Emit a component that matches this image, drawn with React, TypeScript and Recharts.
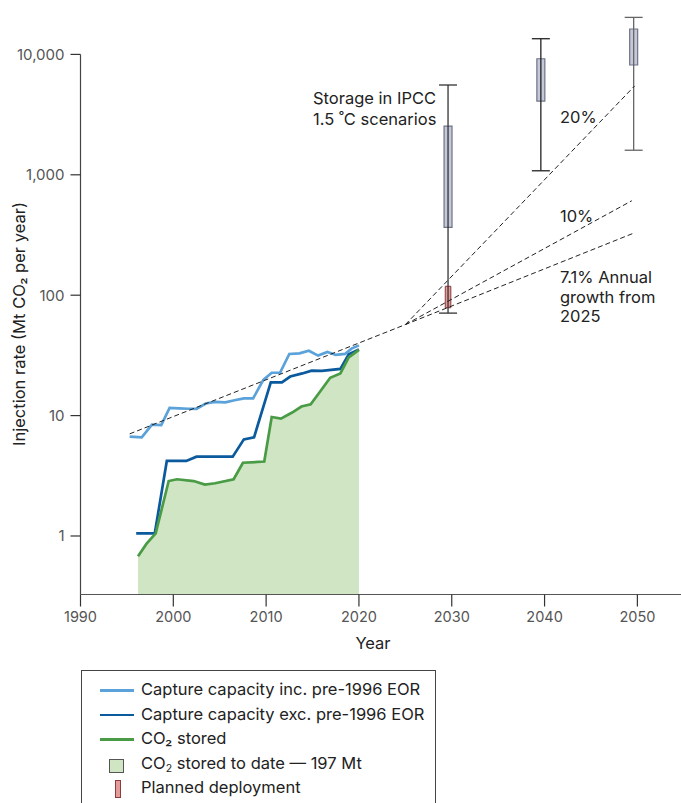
import React from 'react';
import {
  ComposedChart,
  Line,
  Area,
  XAxis,
  YAxis,
  ReferenceArea,
  ReferenceLine,
  Customized,
} from 'recharts';

const FONT = 'Inter, "Noto Sans", "DejaVu Sans", sans-serif';

// ---------- data ----------
const xTicks = [1990, 2000, 2010, 2020, 2030, 2040, 2050];
const yTicks = [1, 10, 100, 1000, 10000];

// Capture capacity inc. pre-1996 EOR
const incYears = [1995.3, 1996.6, 1997.7, 1998.7, 1999.6, 2000.6, 2001.6, 2002.5, 2003.5, 2004.5, 2005.6, 2006.6, 2007.6, 2008.6, 2009.7, 2010.6, 2011.5, 2012.5, 2013.6, 2014.6, 2015.6, 2016.6, 2017.5, 2018.5, 2019.2, 2020.0];
const incValues = [6.7, 6.6, 8.4, 8.35, 11.6, 11.5, 11.4, 11.35, 12.6, 13.0, 12.9, 13.4, 13.9, 13.9, 19.8, 22.7, 22.7, 32.5, 32.9, 34.6, 31.5, 33.8, 31.9, 32.5, 36.0, 38.3];

// Capture capacity exc. pre-1996 EOR
const excYears = [1996.0, 1998.0, 1999.3, 2001.4, 2002.5, 2006.4, 2007.6, 2008.7, 2010.5, 2011.7, 2012.6, 2013.9, 2014.9, 2016.0, 2018.0, 2018.9, 2020.0];
const excValues = [1.05, 1.05, 4.2, 4.2, 4.56, 4.56, 6.35, 6.6, 18.9, 18.9, 21.1, 22.4, 23.6, 23.5, 24.4, 32.3, 35.5];

// CO2 stored
const storedYears = [1996.2, 1997.1, 1998.1, 1999.5, 2000.4, 2002.2, 2003.4, 2004.5, 2006.5, 2007.5, 2009.8, 2010.6, 2011.6, 2012.8, 2013.8, 2014.8, 2015.8, 2016.9, 2018.0, 2018.9, 2020.0];
const storedValues = [0.68, 0.86, 1.05, 2.86, 2.96, 2.86, 2.67, 2.74, 2.96, 4.06, 4.15, 9.73, 9.43, 10.6, 11.9, 12.4, 15.8, 20.6, 22.4, 30.5, 35.1];

// growth projections (dashed)
const trend71Years = [1995.3, 2025, 2049.7];
const trend71Values = [7.05, 57, 330];
const trend10Years = [2025, 2049.4];
const trend10Values = [57, 609];
const trend20Years = [2025, 2049.7];
const trend20Values = [57, 5470];

// Storage in IPCC 1.5 C scenarios (box plots)
const boxYears = [2029.6, 2039.6, 2049.6];
const whiskerLow = [71, 1080, 1600];
const boxLow = [366, 4100, 8170];
const boxHigh = [2540, 9200, 16250];
const whiskerHigh = [5570, 13500, 20300];

// Planned deployment
const plannedYear = 2029.6;
const plannedLow = 78.7;
const plannedHigh = 118.6;

const legendLabels = [
  'Capture capacity inc. pre-1996 EOR',
  'Capture capacity exc. pre-1996 EOR',
  'CO₂ stored',
  'CO2 stored to date — 197 Mt',
  'Planned deployment',
];

// ---------- styling constants ----------
const X_MIN = 1990;
const X_MAX = 2054.7;
const Y_MIN = 0.3266;
const Y_MAX = 25000;
const BOX_HALF = 0.43; // years
const CAP_HALF = 0.97; // years
const PLAN_HALF = 0.3;

const C_INC = '#5aa2d9';
const C_EXC = '#0b5a9e';
const C_STORED = '#4a9b45';
const C_FILL = '#cfe5c3';
const C_BOX = '#c4c8d8';
const C_BOX_EDGE = '#6f7386';
const C_PLAN = '#e69b9b';
const C_PLAN_EDGE = '#8b3b3b';
const whiskerColors = ['#333333', '#222222', '#666666'];

const pts = (xs: number[], ys: number[]) => xs.map((x, i) => ({ x, y: ys[i] }));

const Annotations = () => (
  <g fontFamily={FONT} fill="#222" fontSize={16.5}>
    <text x={313} y={104}>Storage in IPCC</text>
    <text x={313} y={125}>1.5 ˚C scenarios</text>
    <text x={560} y={123}>20%</text>
    <text x={560} y={222}>10%</text>
    <text x={560} y={283}>7.1% Annual</text>
    <text x={560} y={302.5}>growth from</text>
    <text x={560} y={322}>2025</text>
  </g>
);

const LegendBox = () => {
  const rowY = [689.5, 714, 738.3, 763.5, 787];
  const lineColors = [C_INC, C_EXC, C_STORED];
  return (
    <div
      style={{
        position: 'absolute',
        left: 81,
        top: 670,
        width: 355,
        height: 145,
        border: '1.2px solid #444',
        boxSizing: 'border-box',
        background: '#fff',
        fontFamily: FONT,
        fontSize: 16.5,
        color: '#222',
      }}
    >
      {lineColors.map((c, i) => (
        <div
          key={i}
          style={{
            position: 'absolute',
            left: 99 - 81,
            top: rowY[i] - 670 - 1.3,
            width: 34,
            height: 2.6,
            background: c,
          }}
        />
      ))}
      <div
        style={{
          position: 'absolute',
          left: 108 - 81,
          top: 757.5 - 670,
          width: 15,
          height: 14,
          background: C_FILL,
          border: '1px solid #555',
          boxSizing: 'border-box',
        }}
      />
      <div
        style={{
          position: 'absolute',
          left: 114 - 81,
          top: 779 - 670,
          width: 6,
          height: 18,
          background: C_PLAN,
          border: '1px solid ' + C_PLAN_EDGE,
          boxSizing: 'border-box',
        }}
      />
      {legendLabels.map((t, i) => (
        <div
          key={t}
          style={{
            position: 'absolute',
            left: 140 - 81,
            top: rowY[i] - 670 - 10 - 1.2,
            height: 20,
            lineHeight: '20px',
            whiteSpace: 'nowrap',
          }}
        >
          {i === 3 ? (
            <span>
              CO<sub style={{ fontSize: 10.5, verticalAlign: -3, lineHeight: 0 }}>2</sub> stored to date — 197 Mt
            </span>
          ) : (
            t
          )}
        </div>
      ))}
    </div>
  );
};

export default function App() {
  return (
    <div
      style={{
        position: 'absolute',
        left: 0,
        top: 0,
        width: 681,
        height: 803,
        overflow: 'hidden',
        background: '#fff',
      }}
    >
      <ComposedChart
        width={681}
        height={803}
        margin={{ top: 6.5, right: 0, bottom: 148.5, left: 0 }}
      >
        <XAxis
          dataKey="x"
          type="number"
          domain={[X_MIN, X_MAX]}
          ticks={xTicks}
          interval={0}
          allowDataOverflow
          height={60}
          tickSize={12}
          tickMargin={5}
          axisLine={{ stroke: '#555', strokeWidth: 1.2 }}
          tickLine={{ stroke: '#333', strokeWidth: 1.2 }}
          tick={{ fill: '#555', fontSize: 14.5, fontFamily: FONT }}
          label={{
            content: () => (
              <text x={373} y={649} textAnchor="middle" fontFamily={FONT} fontSize={16.5} fill="#222">
                Year
              </text>
            ),
          }}
        />
        <YAxis
          dataKey="y"
          type="number"
          scale="log"
          domain={[Y_MIN, Y_MAX]}
          ticks={yTicks}
          interval={0}
          allowDataOverflow
          width={80.5}
          axisLine={false}
          tickSize={10}
          tickMargin={6}
          tickLine={{ stroke: '#333', strokeWidth: 1.2 }}
          tick={{ fill: '#555', fontSize: 15, fontFamily: FONT }}
          tickFormatter={(v: number) => v.toLocaleString('en-US')}
          label={{
            content: () => (
              <text
                transform="translate(19,324) rotate(-90)"
                textAnchor="middle"
                dominantBaseline="central"
                fontFamily={FONT}
                fontSize={16.5}
                fill="#222"
              >
                Injection rate (Mt CO₂ per year)
              </text>
            ),
          }}
        />

        {/* y axis line (only up to 10,000) */}
        <ReferenceLine
          segment={[
            { x: X_MIN, y: Y_MIN },
            { x: X_MIN, y: 10000 },
          ]}
          stroke="#444"
          strokeWidth={1.2}
          ifOverflow="visible"
        />

        <Area
          data={pts(storedYears, storedValues)}
          dataKey="y"
          type="linear"
          stroke="none"
          fill={C_FILL}
          fillOpacity={1}
          baseValue={Y_MIN}
          isAnimationActive={false}
        />
        <Line
          data={pts(incYears, incValues)}
          dataKey="y"
          type="linear"
          stroke={C_INC}
          strokeWidth={2.7}
          dot={false}
          isAnimationActive={false}
        />
        <Line
          data={pts(excYears, excValues)}
          dataKey="y"
          type="linear"
          stroke={C_EXC}
          strokeWidth={2.7}
          dot={false}
          isAnimationActive={false}
        />
        <Line
          data={pts(storedYears, storedValues)}
          dataKey="y"
          type="linear"
          stroke={C_STORED}
          strokeWidth={2.7}
          dot={false}
          isAnimationActive={false}
        />

        {/* whiskers */}
        {boxYears.map((yr, i) => (
          <ReferenceLine
            key={'w' + i}
            segment={[
              { x: yr, y: whiskerLow[i] },
              { x: yr, y: whiskerHigh[i] },
            ]}
            stroke={whiskerColors[i]}
            strokeWidth={1.3}
            ifOverflow="visible"
          />
        ))}
        {boxYears.map((yr, i) => (
          <ReferenceLine
            key={'ct' + i}
            segment={[
              { x: yr - CAP_HALF, y: whiskerHigh[i] },
              { x: yr + CAP_HALF, y: whiskerHigh[i] },
            ]}
            stroke={whiskerColors[i]}
            strokeWidth={1.3}
            ifOverflow="visible"
          />
        ))}
        {boxYears.map((yr, i) => (
          <ReferenceLine
            key={'cb' + i}
            segment={[
              { x: yr - CAP_HALF, y: whiskerLow[i] },
              { x: yr + CAP_HALF, y: whiskerLow[i] },
            ]}
            stroke={whiskerColors[i]}
            strokeWidth={1.3}
            ifOverflow="visible"
          />
        ))}
        {boxYears.map((yr, i) => (
          <ReferenceArea
            key={'b' + i}
            x1={yr - BOX_HALF}
            x2={yr + BOX_HALF}
            y1={boxLow[i]}
            y2={boxHigh[i]}
            fill={C_BOX}
            fillOpacity={1}
            stroke={C_BOX_EDGE}
            strokeWidth={1.2}
            ifOverflow="visible"
          />
        ))}
        <ReferenceArea
          x1={plannedYear - PLAN_HALF}
          x2={plannedYear + PLAN_HALF}
          y1={plannedLow}
          y2={plannedHigh}
          fill={C_PLAN}
          fillOpacity={1}
          stroke={C_PLAN_EDGE}
          strokeWidth={1}
          ifOverflow="visible"
        />

        {/* growth projections */}
        <Line
          data={pts(trend71Years, trend71Values)}
          dataKey="y"
          type="linear"
          stroke="#222"
          strokeWidth={1}
          strokeDasharray="5 3"
          dot={false}
          isAnimationActive={false}
        />
        <Line
          data={pts(trend10Years, trend10Values)}
          dataKey="y"
          type="linear"
          stroke="#222"
          strokeWidth={1}
          strokeDasharray="5 3"
          dot={false}
          isAnimationActive={false}
        />
        <Line
          data={pts(trend20Years, trend20Values)}
          dataKey="y"
          type="linear"
          stroke="#222"
          strokeWidth={1}
          strokeDasharray="5 3"
          dot={false}
          isAnimationActive={false}
        />

        <Customized component={Annotations} />
      </ComposedChart>
      <LegendBox />
    </div>
  );
}
